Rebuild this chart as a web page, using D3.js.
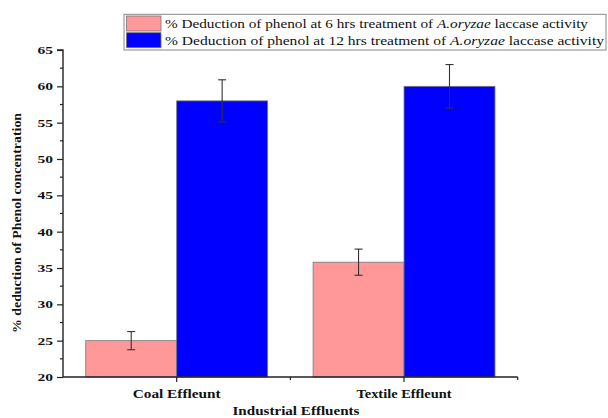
<!DOCTYPE html>
<html><head><meta charset="utf-8">
<script src="https://cdn.jsdelivr.net/npm/d3@7"></script>
<style>html,body{margin:0;padding:0;background:#fff;}svg{display:block;}</style>
</head><body>
<svg id="c" width="608" height="418"></svg>
<script>
const categories = ["Coal Effleunt", "Textile Effleunt"];
const seriesNames = ["6 hrs", "12 hrs"];
const values6h = [25.0, 35.8];
const err6h = [1.25, 1.8];
const values12h = [58.0, 60.0];
const err12h = [2.9, 3.0];
const yTicks = [20, 25, 30, 35, 40, 45, 50, 55, 60, 65];
const legendLabels = [
  ["% Deduction of phenol at 6 hrs treatment of ", "A.oryzae", " laccase activity"],
  ["% Deduction of phenol at 12 hrs treatment of ", "A.oryzae", " laccase activity"]
];
const colors = ["#FF9999", "#0000FF"];

const svg = d3.select("#c");
const L = 63, R = 517.7, T = 50, B = 377;
const x = d3.scaleBand().domain(categories).range([L, R]).paddingInner(0.2).paddingOuter(0.1);
const xs = d3.scaleBand().domain(seriesNames).range([0, x.bandwidth()]);
const y = d3.scaleLinear().domain([20, 65]).range([B, T]);

const data = [];
categories.forEach((c, i) => {
  data.push({c, s: seriesNames[0], v: values6h[i], e: err6h[i], col: colors[0]});
  data.push({c, s: seriesNames[1], v: values12h[i], e: err12h[i], col: colors[1]});
});

// bars
svg.append("g").selectAll("rect").data(data).join("rect")
  .attr("x", d => x(d.c) + xs(d.s))
  .attr("y", d => y(d.v))
  .attr("width", xs.bandwidth())
  .attr("height", d => y(20) - y(d.v))
  .attr("fill", d => d.col)
  .attr("stroke", "#777").attr("stroke-width", 0.8);

// error bars
const eg = svg.append("g").attr("stroke", "#333").attr("stroke-width", 1.1);
data.forEach(d => {
  const cx = x(d.c) + xs(d.s) + xs.bandwidth() / 2;
  eg.append("line").attr("x1", cx).attr("x2", cx).attr("y1", y(d.v + d.e)).attr("y2", y(d.v - d.e));
  eg.append("line").attr("x1", cx - 4).attr("x2", cx + 4).attr("y1", y(d.v + d.e)).attr("y2", y(d.v + d.e));
  eg.append("line").attr("x1", cx - 4).attr("x2", cx + 4).attr("y1", y(d.v - d.e)).attr("y2", y(d.v - d.e));
});

// y axis
const yAxis = d3.axisLeft(y).tickValues(yTicks).tickSize(6).tickPadding(4).tickFormat(d3.format("d"));
const yg = svg.append("g").attr("transform", `translate(${L},0)`).call(yAxis);
yg.select(".domain").attr("stroke", "#222").attr("stroke-width", 1.4).attr("d", `M-6,${T}H0V${B}`);
yg.selectAll(".tick line").attr("stroke", "#222").attr("stroke-width", 1.2);
yg.selectAll(".tick text").attr("font-family", "Liberation Serif").attr("font-weight", "bold").attr("font-size", 11).attr("fill", "#111")
  .attr("textLength", 15.5).attr("lengthAdjust", "spacingAndGlyphs");
const minor = d3.range(22.5, 65, 5);
yg.selectAll(".minor").data(minor).join("line").attr("class", "minor")
  .attr("x1", -3).attr("x2", 0).attr("y1", d => y(d)).attr("y2", d => y(d))
  .attr("stroke", "#222").attr("stroke-width", 1.2);

// x axis
const xg = svg.append("g").attr("transform", `translate(0,${B})`);
xg.append("line").attr("x1", L).attr("x2", R).attr("y1", 0).attr("y2", 0).attr("stroke", "#222").attr("stroke-width", 1.4);
const step = x.step();
const xTickPos = categories.map(c => x(c) + x.bandwidth() / 2);
const xMinorPos = [xTickPos[0] + step / 2, R];
xg.selectAll(".maj").data(xTickPos).join("line").attr("class", "maj")
  .attr("x1", d => d).attr("x2", d => d).attr("y1", 0).attr("y2", 5).attr("stroke", "#222").attr("stroke-width", 1.2);
xg.selectAll(".mnr").data(xMinorPos).join("line").attr("class", "mnr")
  .attr("x1", d => d).attr("x2", d => d).attr("y1", 0).attr("y2", 3).attr("stroke", "#222").attr("stroke-width", 1.2);
const xLabelW = [88, 95];
xg.selectAll("text").data(categories).join("text")
  .attr("x", d => x(d) + x.bandwidth() / 2).attr("y", 21)
  .attr("text-anchor", "middle").attr("font-family", "Liberation Serif").attr("font-weight", "bold").attr("font-size", 13).attr("fill", "#111")
  .attr("textLength", (d, i) => xLabelW[i]).attr("lengthAdjust", "spacingAndGlyphs")
  .text(d => d);

// axis titles
svg.append("text").attr("x", 296).attr("y", 415).attr("text-anchor", "middle")
  .attr("font-family", "Liberation Serif").attr("font-weight", "bold").attr("font-size", 13).attr("fill", "#111")
  .attr("textLength", 127).attr("lengthAdjust", "spacingAndGlyphs")
  .text("Industrial Effluents");
svg.append("text").attr("transform", "translate(21,223) rotate(-90)").attr("text-anchor", "middle")
  .attr("font-family", "Liberation Serif").attr("font-weight", "bold").attr("font-size", 12.5).attr("fill", "#111")
  .attr("textLength", 220).attr("lengthAdjust", "spacingAndGlyphs")
  .text("% deduction of Phenol concentration");

// legend
const lg = svg.append("g");
lg.append("rect").attr("x", 124).attr("y", 14.3).attr("width", 482).attr("height", 35.7)
  .attr("fill", "#fff").attr("stroke", "#888").attr("stroke-width", 1);
const legW = [423, 439];
legendLabels.forEach((parts, i) => {
  const yy = 16 + i * 16.7;
  lg.append("rect").attr("x", 126.5).attr("y", yy).attr("width", 34.5).attr("height", 15)
    .attr("fill", colors[i]).attr("stroke", "#777").attr("stroke-width", 0.8);
  const t = lg.append("text").attr("x", 165).attr("y", yy + 12)
    .attr("font-family", "Liberation Serif").attr("font-size", 13.2).attr("fill", "#111")
    .attr("textLength", legW[i]).attr("lengthAdjust", "spacingAndGlyphs");
  t.append("tspan").text(parts[0]);
  t.append("tspan").attr("font-style", "italic").text(parts[1]);
  t.append("tspan").text(parts[2]);
});
</script>
</body></html>
